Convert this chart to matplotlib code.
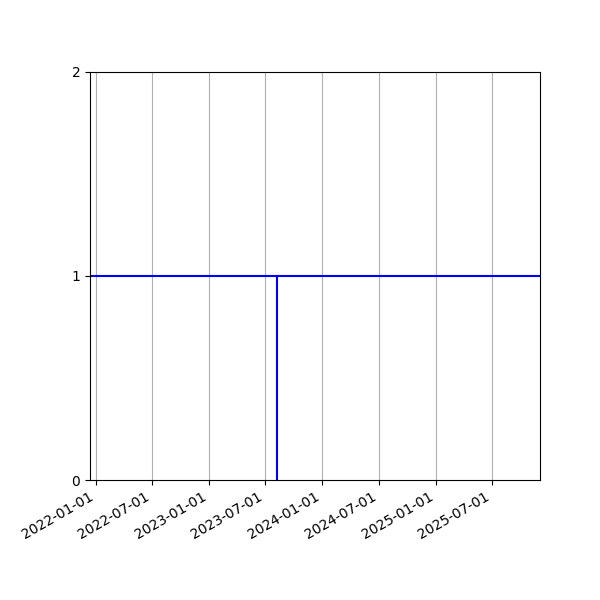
import matplotlib
matplotlib.use("Agg")
import matplotlib.pyplot as plt
import matplotlib.dates as mdates
import numpy as np

# level line across the whole period and a single drop at one date
level_dates = np.array(["2021-12-13", "2025-12-04"], dtype="datetime64[D]")
level_values = [1, 1]
event_dates = np.array(["2023-08-08", "2023-08-08"], dtype="datetime64[D]")
event_values = [0, 1]
y_ticks = [0, 1, 2]

fig = plt.figure(figsize=(6, 6), dpi=100)
ax = fig.add_axes([0.15, 0.2, 0.75, 0.68])

ax.plot(level_dates, level_values, color="blue", linewidth=1.5)
ax.plot(event_dates, event_values, color="blue", linewidth=1.5)

ax.set_xlim(level_dates[0], level_dates[-1])
ax.set_ylim(0, 2)
ax.set_yticks(y_ticks)
ax.xaxis.set_major_locator(mdates.MonthLocator(bymonth=[1, 7]))
ax.xaxis.set_major_formatter(mdates.DateFormatter("%Y-%m-%d"))
ax.grid(True, axis="x")

for lbl in ax.get_xticklabels():
    lbl.set_rotation(30)
    lbl.set_ha("right")

fig.savefig("out.png", dpi=100)
